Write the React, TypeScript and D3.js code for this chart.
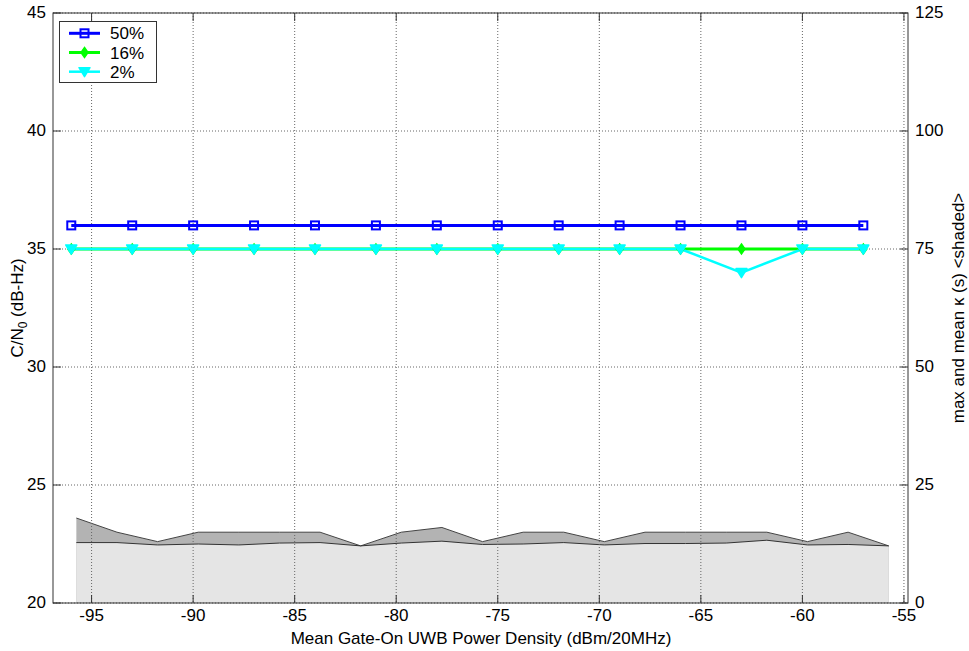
import React from "react";
import * as d3 from "d3";

const xData = [-96, -93, -90, -87, -84, -81, -78, -75, -72, -69, -66, -63, -60, -57];
const p50 = [36, 36, 36, 36, 36, 36, 36, 36, 36, 36, 36, 36, 36, 36];
const p16 = [35, 35, 35, 35, 35, 35, 35, 35, 35, 35, 35, 35, 35, 35];
const p2 = [35, 35, 35, 35, 35, 35, 35, 35, 35, 35, 35, 34, 35, 35];

const kappaX = [-95.75, -93.75, -91.75, -89.75, -87.75, -85.75, -83.75, -81.75, -79.75, -77.75, -75.75,
  -73.75, -71.75, -69.75, -67.75, -65.75, -63.75, -61.75, -59.75, -57.75, -55.75];
const kappaMax = [18, 15, 13, 15, 15, 15, 15, 12.1, 15, 16, 13, 15, 15, 13, 15, 15, 15, 15, 13, 15, 12.1];
const kappaMean = [12.8, 12.8, 12.3, 12.5, 12.3, 12.7, 12.8, 12.1, 12.7, 13.1, 12.4, 12.5, 12.8, 12.3,
  12.6, 12.6, 12.7, 13.3, 12.3, 12.4, 12.1];

const xTicks = [-95, -90, -85, -80, -75, -70, -65, -60, -55];
const yLeftTicks = [20, 25, 30, 35, 40, 45];
const yRightTicks = [0, 25, 50, 75, 100, 125];

const L = 53, R = 908, T = 13, B = 603;
const FONT = "Liberation Sans, Arial, sans-serif";
const FS = 17;

export default function App() {
  const x = d3.scaleLinear().domain([-96.9, -54.8]).range([L, R]);
  const yL = d3.scaleLinear().domain([20, 45]).range([B, T]);
  const yR = d3.scaleLinear().domain([0, 125]).range([B, T]);

  const areaMax = d3.area<number>().x((_, i) => x(kappaX[i])).y0(yR(0)).y1((d) => yR(d));
  const lineK = d3.line<number>().x((_, i) => x(kappaX[i])).y((d) => yR(d));
  const lineP = d3.line<number>().x((_, i) => x(xData[i])).y((d) => yL(d));

  const square = (cx: number, cy: number, k: string) => (
    <rect key={k} x={cx - 4} y={cy - 4} width={8} height={8} fill="none" stroke="#0000ff" strokeWidth={2} />
  );
  const diamond = (cx: number, cy: number, k: string) => (
    <path key={k} d={`M${cx},${cy - 5}L${cx + 3.5},${cy}L${cx},${cy + 5}L${cx - 3.5},${cy}Z`} fill="#00ff00" stroke="#00ff00" strokeWidth={1.5} />
  );
  const tri = (cx: number, cy: number, k: string) => (
    <path key={k} d={`M${cx - 5.5},${cy - 4}L${cx + 5.5},${cy - 4}L${cx},${cy + 5}Z`} fill="#00ffff" stroke="#00ffff" strokeWidth={1.5} strokeLinejoin="round" />
  );

  const legendItems = [
    { label: "50%", color: "#0000ff", m: square },
    { label: "16%", color: "#00ff00", m: diamond },
    { label: "2%", color: "#00ffff", m: tri },
  ];

  return (
    <svg width={969} height={651} style={{ position: "absolute", left: 0, top: 0, background: "#fff" }}
      fontFamily={FONT}>
      <rect x={0} y={0} width={969} height={651} fill="#fff" />
      {/* shaded kappa */}
      <path d={areaMax(kappaMax) || ""} fill="#b3b3b3" />
      <path d={areaMax(kappaMean) || ""} fill="#e5e5e5" />
      <path d={lineK(kappaMax) || ""} fill="none" stroke="#444" strokeWidth={1} />
      <path d={lineK(kappaMean) || ""} fill="none" stroke="#333" strokeWidth={1} />

      {/* grid */}
      {xTicks.map((t) => (
        <line key={"gx" + t} x1={x(t)} x2={x(t)} y1={T} y2={B} stroke="#666" strokeWidth={1} strokeDasharray="1,2" />
      ))}
      {yLeftTicks.map((t) => (
        <line key={"gy" + t} x1={L} x2={R} y1={yL(t)} y2={yL(t)} stroke="#666" strokeWidth={1} strokeDasharray="1,2" />
      ))}

      {/* series */}
      <path d={lineP(p50) || ""} fill="none" stroke="#0000ff" strokeWidth={3} />
      {p50.map((v, i) => square(x(xData[i]), yL(v), "s" + i))}
      <path d={lineP(p16) || ""} fill="none" stroke="#00ff00" strokeWidth={3} />
      <path d={lineP(p2) || ""} fill="none" stroke="#00ffff" strokeWidth={2.5} />
      {p16.map((v, i) => diamond(x(xData[i]), yL(v), "d" + i))}
      {p2.map((v, i) => tri(x(xData[i]), yL(v), "t" + i))}

      {/* axes box */}
      <rect x={L} y={T} width={R - L} height={B - T} fill="none" stroke="#333" strokeWidth={1} />
      {xTicks.map((t) => (
        <g key={"xt" + t}>
          <line x1={x(t)} x2={x(t)} y1={B} y2={B - 8} stroke="#333" />
          <line x1={x(t)} x2={x(t)} y1={T} y2={T + 8} stroke="#333" />
          <text x={x(t)} y={621} textAnchor="middle" fontSize={FS} fill="#000">{t}</text>
        </g>
      ))}
      {yLeftTicks.map((t) => (
        <g key={"yl" + t}>
          <line x1={L} x2={L + 8} y1={yL(t)} y2={yL(t)} stroke="#333" />
          <text x={46} y={yL(t) + 5} textAnchor="end" fontSize={FS} fill="#000">{t}</text>
        </g>
      ))}
      {yRightTicks.map((t) => (
        <g key={"yr" + t}>
          <line x1={R} x2={R - 8} y1={yR(t)} y2={yR(t)} stroke="#333" />
          <text x={915} y={yR(t) + 5} textAnchor="start" fontSize={FS} fill="#000">{t}</text>
        </g>
      ))}

      {/* axis titles */}
      <text x={481} y={644} textAnchor="middle" fontSize={FS} fill="#000">
        Mean Gate-On UWB Power Density (dBm/20MHz)
      </text>
      <text transform={`translate(23,${(T + B) / 2}) rotate(-90)`} textAnchor="middle" fontSize={FS} fill="#000">
        C/N<tspan fontSize={FS * 0.7} dy={4}>0</tspan><tspan dy={-4}> (dB-Hz)</tspan>
      </text>
      <text transform={`translate(964,${(T + B) / 2}) rotate(-90)`} textAnchor="middle" fontSize={FS} fill="#000">
        max and mean κ (s) &lt;shaded&gt;
      </text>

      {/* legend */}
      <rect x={59.5} y={21.5} width={97} height={61} fill="#fff" stroke="#333" strokeWidth={1} />
      {legendItems.map((it, i) => {
        const cy = 33.3 + i * 19.2;
        return (
          <g key={"lg" + i}>
            <line x1={69} x2={100} y1={cy} y2={cy} stroke={it.color} strokeWidth={i === 2 ? 2.5 : 3} />
            {it.m(84.5, cy, "lm" + i)}
            <text x={110} y={cy + 6} fontSize={FS} fill="#000">{it.label}</text>
          </g>
        );
      })}
    </svg>
  );
}
